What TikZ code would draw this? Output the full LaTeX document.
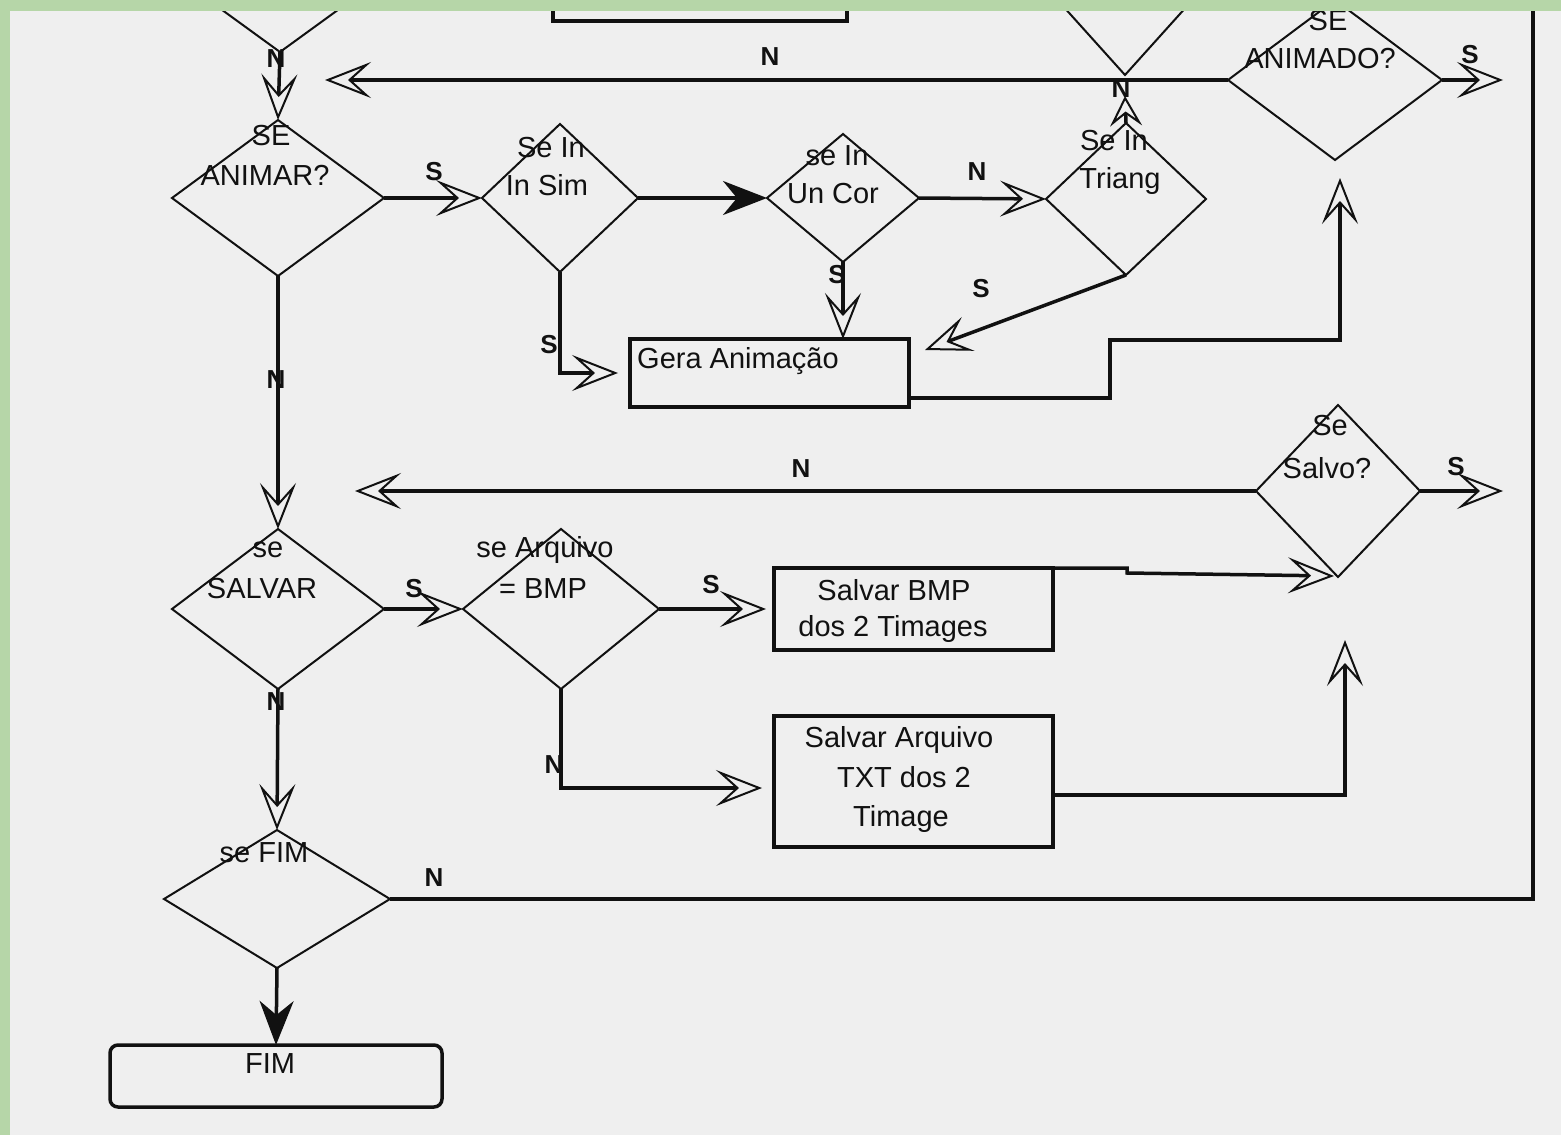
\documentclass[tikz,border=0pt]{standalone}
\usepackage{fontspec}
\setmainfont{Liberation Sans}
\usetikzlibrary{shapes.geometric,arrows.meta,calc}
\definecolor{bg}{HTML}{EFEFEF}
\definecolor{ink}{HTML}{111111}
\definecolor{leaf}{HTML}{B6D6A8}
\tikzset{
  dia/.style={diamond, draw=ink, line width=2pt, inner sep=0pt, outer sep=0pt},
  box/.style={rectangle, draw=ink, line width=3.5pt, inner sep=0pt, outer sep=0pt},
  txt/.style={font=\fontsize{29}{33}\selectfont, text=ink, inner sep=0pt, anchor=base},
  lbl/.style={font=\fontsize{26}{30}\selectfont\bfseries, text=ink, inner sep=0pt, anchor=base},
  conn/.style={draw=ink, line width=3.5pt},
  arr/.style={conn, -{Stealth[open, length=46pt, width=36pt, inset=20pt, line width=2pt]}},
  sarr/.style={conn, -{Stealth[open, length=30pt, width=32pt, inset=12pt, line width=2pt]}},
  farr/.style={conn, -{Stealth[length=44pt, width=34pt, inset=14pt]}},
}
\begin{document}
\begin{tikzpicture}[x=1pt,y=-1pt]
\useasboundingbox (0,0) rectangle (1561,1135);
\fill[bg] (0,0) rectangle (1561,1135);

% boxes
\node[box, minimum width=294pt, minimum height=61pt] (bTop) at (700,-9.5) {};
\node[box, minimum width=279pt, minimum height=68pt] (bGera) at (769.5,373) {};
\node[box, minimum width=279pt, minimum height=82pt] (bBMP) at (913.5,609) {};
\node[box, minimum width=279pt, minimum height=131pt] (bTXT) at (913.5,781.5) {};
\node[box, rounded corners=8pt, minimum width=332pt, minimum height=62pt] (bFim) at (276,1076) {};

% diamonds
\node[dia, minimum width=212pt, minimum height=154pt] (dTopL) at (280,-25) {};
\node[dia, minimum width=144pt, minimum height=160pt] (dTopM) at (1125,-5) {};
\node[dia, minimum width=212pt, minimum height=156pt] (dAnimar) at (278,198) {};
\node[dia, minimum width=156pt, minimum height=148pt] (dInSim) at (560,198) {};
\node[dia, minimum width=152pt, minimum height=128pt] (dUnCor) at (843,198) {};
\node[dia, minimum width=160pt, minimum height=152pt] (dTriang) at (1126,199) {};
\node[dia, minimum width=214pt, minimum height=160pt] (dAnimado) at (1335,80) {};
\node[dia, minimum width=164pt, minimum height=172pt] (dSalvo) at (1338,491) {};
\node[dia, minimum width=212pt, minimum height=160pt] (dSalvar) at (278,609) {};
\node[dia, minimum width=196pt, minimum height=160pt] (dArquivo) at (561,609) {};
\node[dia, minimum width=226pt, minimum height=138pt] (dFim) at (277,899) {};

% free ends
\coordinate (eA) at (325,80);
\coordinate (jT) at (1125,96);
\coordinate (eG) at (925,350);
\coordinate (eUp) at (1340,178);
\coordinate (eR1) at (1503,80);
\coordinate (eL2) at (355,491);
\coordinate (eR2) at (1503,491);
\coordinate (eS) at (1334,576);
\coordinate (eS2) at (1345,640);
\coordinate (eTop) at (1533,0);

% connectors
\draw[arr] (dTopL.south) -- (dAnimar.north);
\draw[arr] (dAnimado.west) -- (eA);
\draw[sarr] (dTriang.north) -- (jT);
\draw[arr] (dAnimar.east) -- (dInSim.west);
\draw[farr] (dInSim.east) -- (dUnCor.west);
\draw[arr] (dUnCor.east) -- (dTriang.west);
\draw[arr, shorten >=12pt] (dInSim.south) |- (bGera.west);
\draw[arr] (dUnCor.south) -- (dUnCor.south |- bGera.north);
\draw[arr] (dTriang.south) -- (eG);
\draw[arr] (bGera.east |- 0,398) -- (1110,398) -- (1110,340) -- (1340,340) -- (eUp);
\draw[arr] (dAnimado.east) -- (eR1);
\draw[arr] (dAnimar.south) -- (dSalvar.north);
\draw[arr] (dSalvo.west) -- (eL2);
\draw[arr] (dSalvo.east) -- (eR2);
\draw[arr] (dSalvar.east) -- (dArquivo.west);
\draw[arr, shorten >=8pt] (dArquivo.east) -- (bBMP.west);
\draw[arr] (bBMP.north east) -- (1127,568) -- (1127,573) -- (eS);
\draw[arr] (bTXT.east |- 0,795) -- (1345,795) -- (eS2);
\draw[arr, shorten >=12pt] (dArquivo.south) |- (bTXT.west |- 0,788);
\draw[arr] (dSalvar.south) -- (dFim.north);
\draw[conn] (dFim.east) -| (eTop);
\draw[farr] (dFim.south) -- (bFim.north);

% connector labels
\node[lbl] (l1) at (276,67) {N};
\node[lbl] (l2) at (770,65) {N};
\node[lbl] (l3) at (1121,97) {N};
\node[lbl] (l4) at (434,180) {S};
\node[lbl] (l5) at (977,180) {N};
\node[lbl] (l6) at (549,353) {S};
\node[lbl] (l7) at (837,283) {S};
\node[lbl] (l8) at (981,297) {S};
\node[lbl] (l9) at (1470,63) {S};
\node[lbl] (l10) at (276,388) {N};
\node[lbl] (l11) at (801,477) {N};
\node[lbl] (l12) at (1456,475) {S};
\node[lbl] (l13) at (414,597) {S};
\node[lbl] (l14) at (711,593) {S};
\node[lbl] (l15) at (554,773) {N};
\node[lbl] (l16) at (276,710) {N};
\node[lbl] (l17) at (434,886) {N};

% texts
\node[txt] (t1) at (271,145) {SE};
\node[txt] (t2) at (265,185) {ANIMAR?};
\node[txt] (t3) at (551,157) {Se In};
\node[txt] (t4) at (547,195) {In Sim};
\node[txt] (t5) at (837,165) {se In};
\node[txt] (t6) at (833,203) {Un Cor};
\node[txt] (t7) at (1114,150) {Se In};
\node[txt] (t8) at (1120,188) {Triang};
\node[txt] (t9) at (1328,30) {SE};
\node[txt] (t10) at (1320,68) {ANIMADO?};
\node[txt] (t11) at (1330,435) {Se};
\node[txt] (t12) at (1327,478) {Salvo?};
\node[txt] (t13) at (268,557) {se};
\node[txt] (t14) at (262,598) {SALVAR};
\node[txt] (t15) at (545,557) {se Arquivo};
\node[txt] (t16) at (543,598) {= BMP};
\node[txt] (t17) at (894,600) {Salvar BMP};
\node[txt] (t18) at (893,636) {dos 2 Timages};
\node[txt] (t19) at (899,747) {Salvar Arquivo};
\node[txt] (t20) at (904,787) {TXT dos 2};
\node[txt] (t21) at (901,826) {Timage};
\node[txt, anchor=base west] (t22) at (637,368) {Gera Animação};
\node[txt] (t23) at (264,862) {se FIM};
\node[txt] (t24) at (270,1073) {FIM};

% green frame strips
\fill[leaf] (0,0) rectangle (1561,11);
\fill[leaf] (0,0) rectangle (10,1135);
\end{tikzpicture}
\end{document}
